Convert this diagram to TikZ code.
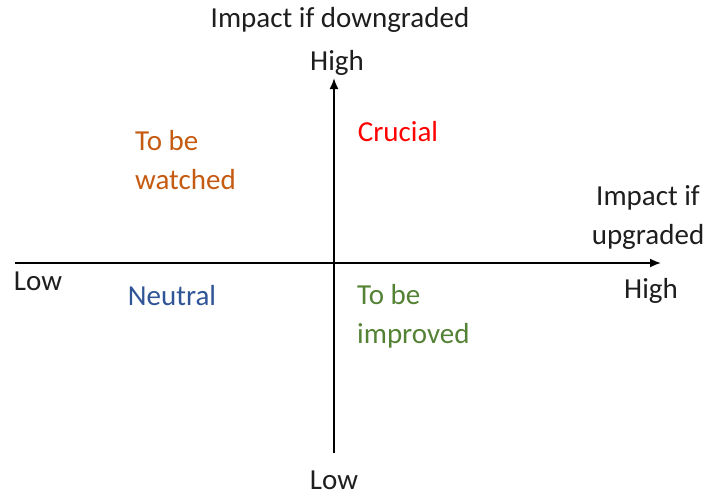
\documentclass[tikz,border=0pt]{standalone}
\usepackage{fontspec}
\setmainfont{Carlito}
\usetikzlibrary{arrows.meta}
\definecolor{cruc}{RGB}{255,0,0}
\definecolor{watch}{RGB}{197,90,17}
\definecolor{neut}{RGB}{47,85,151}
\definecolor{impr}{RGB}{84,130,53}
\definecolor{txt}{RGB}{30,30,30}
\begin{document}
\begin{tikzpicture}[x=1pt,y=-1pt,
  lbl/.style={font=\fontsize{29}{39}\selectfont, text=txt, inner sep=0pt, anchor=base},
  ml/.style={font=\fontsize{29}{39}\selectfont, inner sep=0pt, align=left},
  axis/.style={line width=1.8pt, -{Latex[length=11pt,width=9pt]}}]
\useasboundingbox (0,0) rectangle (708,495);
\coordinate (xl) at (15,263);
\coordinate (xr) at (661,263);
\coordinate (yb) at (334,453);
\coordinate (yt) at (334,78);
\draw[axis] (xl) -- (xr);
\draw[axis] (yb) -- (yt);
\node[lbl] (down) at (340,28) {Impact if downgraded};
\node[lbl] (hight) at (337,70) {High};
\node[lbl, text=cruc] (crucial) at (398,141) {Crucial};
\node[ml, text=watch, anchor=base west] (watched) at (135,189) {To be\\watched};
\node[ml, text=txt, align=center, anchor=base] (upg) at (648,244) {Impact if\\upgraded};
\node[lbl] (lowl) at (38,290) {Low};
\node[lbl, text=neut] (neutral) at (172,305) {Neutral};
\node[ml, text=impr, anchor=base west] (improved) at (357,343) {To be\\improved};
\node[lbl] (highr) at (651,298) {High};
\node[lbl] (lowb) at (334,489) {Low};
\end{tikzpicture}
\end{document}
